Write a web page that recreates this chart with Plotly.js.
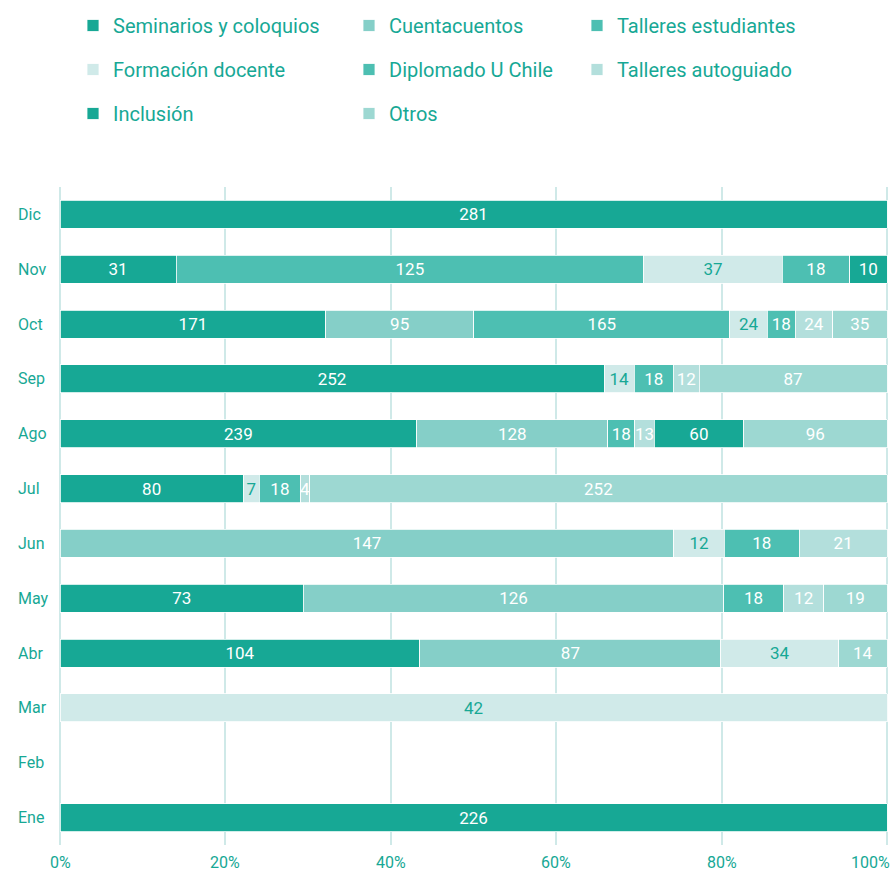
<!DOCTYPE html>
<html>
<head>
<meta charset="utf-8">
<script src="https://cdn.plot.ly/plotly-3.0.1.min.js"></script>
<style>
  html, body { margin: 0; padding: 0; background: #ffffff; }
  #chart { width: 894px; height: 874px; }
</style>
</head>
<body>
<div id="chart"></div>
<script>
// Months, bottom (Ene) to top (Dic)
const months = ['Ene','Feb','Mar','Abr','May','Jun','Jul','Ago','Sep','Oct','Nov','Dic'];
const xTickVals = [0, 20, 40, 60, 80, 100];
const xTickText = ['0%', '20%', '40%', '60%', '80%', '100%'];

// Series values aligned with months
const seminarios      = [226, null, null, 104, 73, null, 80, 239, 252, 171, 31, 281];
const cuentacuentos   = [null, null, null, 87, 126, 147, null, 128, null, 95, null, null];
const tallEstudiantes = [null, null, null, null, null, null, null, null, null, 165, 125, null];
const formacion       = [null, null, 42, 34, null, 12, 7, null, 14, 24, 37, null];
const diplomado       = [null, null, null, null, 18, 18, 18, 18, 18, 18, 18, null];
const tallAutoguiado  = [null, null, null, null, 12, 21, 4, 13, 12, 24, null, null];
const inclusion       = [null, null, null, null, null, null, null, 60, null, null, 10, null];
const otros           = [null, null, null, 14, 19, null, 252, 96, 87, 35, null, null];

const TEAL = '#17a895';
const FONT = 'Roboto, "Noto Sans", sans-serif';

const series = [
  {name: 'Seminarios y coloquios', values: seminarios,      color: '#17a895', text: '#ffffff', legend: 'legend'},
  {name: 'Cuentacuentos',          values: cuentacuentos,   color: '#85cfc8', text: '#ffffff', legend: 'legend2'},
  {name: 'Talleres estudiantes',   values: tallEstudiantes, color: '#4dbfb2', text: '#ffffff', legend: 'legend3'},
  {name: 'Formación docente',      values: formacion,       color: '#d0eae9', text: TEAL,      legend: 'legend'},
  {name: 'Diplomado U Chile',      values: diplomado,       color: '#4dbfb2', text: '#ffffff', legend: 'legend2'},
  {name: 'Talleres autoguiado',    values: tallAutoguiado,  color: '#b3dfdc', text: '#ffffff', legend: 'legend3'},
  {name: 'Inclusión',              values: inclusion,       color: '#17a895', text: '#ffffff', legend: 'legend'},
  {name: 'Otros',                  values: otros,           color: '#9dd8d2', text: '#ffffff', legend: 'legend2'}
];

const traces = series.map(s => ({
  type: 'bar',
  orientation: 'h',
  name: s.name,
  x: s.values,
  y: months,
  legend: s.legend,
  legendgroup: s.name,
  marker: {color: s.color, line: {color: '#ffffff', width: 0.8}},
  text: s.values.map(v => v == null ? '' : String(v)),
  textposition: 'inside',
  insidetextanchor: 'middle',
  textangle: 0,
  constraintext: 'none',
  textfont: {family: FONT, size: 17, color: s.text},
  hoverinfo: 'name+x+y'
}));

const legendBase = {
  orientation: 'v',
  xref: 'container', yref: 'container',
  yanchor: 'top', xanchor: 'left',
  y: 1 - 6/874,
  font: {family: FONT, size: 20, color: TEAL},
  bgcolor: 'rgba(0,0,0,0)',
  tracegroupgap: 15,
  traceorder: 'grouped'
};

// plot area: 0% at x=60px, 100% at x=887px (range padded so edge gridlines are drawn)
const ML = 58, MR = 5;
const PLOT_W = 894 - ML - MR;
const PAD = 2 / 8.27;

const tickAnnotations = xTickVals.map((v, i) => ({
  xref: 'x', yref: 'paper',
  x: v, y: 0,
  yanchor: 'top',
  xanchor: i === xTickVals.length - 1 ? 'right' : 'center',
  xshift: i === xTickVals.length - 1 ? 5 : 0,
  yshift: -6,
  text: xTickText[i],
  showarrow: false,
  font: {family: FONT, size: 16, color: TEAL}
}));

const monthAnnotations = months.map(m => ({
  xref: 'paper', yref: 'y',
  x: (16 - ML) / PLOT_W, y: m,
  xanchor: 'left', yanchor: 'middle',
  text: m,
  showarrow: false,
  font: {family: FONT, size: 16, color: TEAL}
}));

const layout = {
  width: 894,
  height: 874,
  margin: {l: ML, r: MR, t: 187, b: 29, autoexpand: false},
  paper_bgcolor: '#ffffff',
  plot_bgcolor: '#ffffff',
  barmode: 'stack',
  barnorm: 'percent',
  bargap: 0.49,
  font: {family: FONT, color: TEAL},
  showlegend: true,
  legend:  Object.assign({}, legendBase, {x: 73/894}),
  legend2: Object.assign({}, legendBase, {x: 349/894}),
  legend3: Object.assign({}, legendBase, {x: 577/894}),
  xaxis: {
    range: [-PAD, 100 + PAD],
    tickmode: 'array',
    tickvals: xTickVals,
    ticktext: xTickText,
    showticklabels: false,
    showgrid: true,
    gridcolor: '#cfe9e8',
    gridwidth: 2,
    zeroline: false,
    showline: false,
    ticks: '',
    automargin: false,
    fixedrange: true
  },
  yaxis: {
    type: 'category',
    categoryorder: 'array',
    categoryarray: months,
    range: [-0.5, 11.5],
    showticklabels: false,
    showgrid: false,
    zeroline: false,
    ticks: '',
    automargin: false,
    fixedrange: true
  },
  annotations: monthAnnotations.concat(tickAnnotations)
};

Plotly.newPlot('chart', traces, layout, {displayModeBar: false, staticPlot: true});
</script>
</body>
</html>
